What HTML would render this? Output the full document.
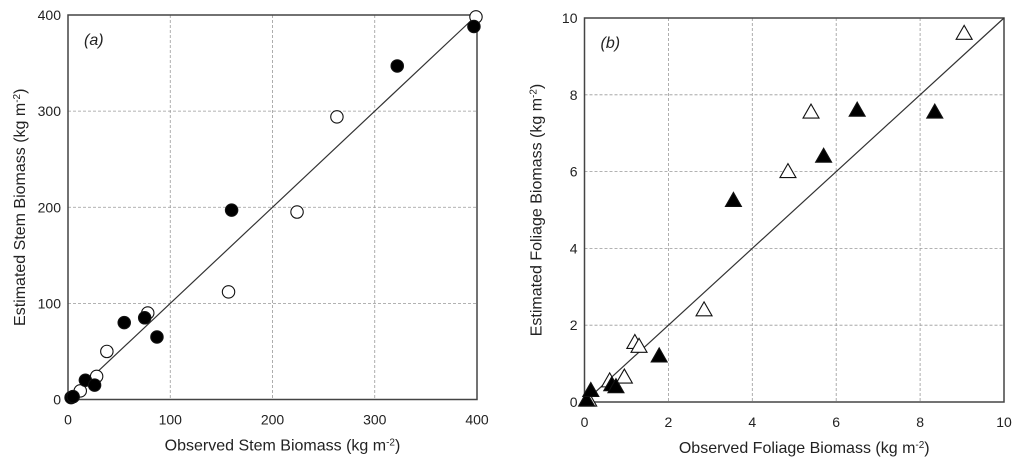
<!DOCTYPE html>
<html><head><meta charset="utf-8"><style>
body{margin:0;background:#fff;width:1024px;height:463px;overflow:hidden}
svg text{font-family:"Liberation Sans",Arial,sans-serif;fill:#222}
</style></head><body>
<svg id="c" width="1024" height="463"></svg>
<script>
const aTicks=[0,100,200,300,400];
const aOpenX=[5,12,28,38,78,157,224,263,399];
const aOpenY=[3,9,24,50,90,112,195,294,398];
const aFillX=[3,5,17,26,55,75,87,160,322,397];
const aFillY=[2,3,20,15,80,85,65,197,347,388];
const bTicks=[0,2,4,6,8,10];
const bOpenX=[0.1,0.6,0.95,1.2,1.3,2.85,4.85,5.4,9.05];
const bOpenY=[0.05,0.55,0.65,1.55,1.45,2.4,6.0,7.55,9.6];
const bFillX=[0.05,0.15,0.65,0.75,1.78,3.55,5.7,6.5,8.35];
const bFillY=[0.05,0.3,0.45,0.4,1.2,5.25,6.4,7.6,7.55];
const NS='http://www.w3.org/2000/svg';
const svg=document.getElementById('c');
function mk(t,a,p){const e=document.createElementNS(NS,t);for(const k in a)e.setAttribute(k,a[k]);(p||svg).appendChild(e);return e;}
function panel(P){
  const g=mk('g',{});
  
  
  const sx=v=>P.l+(v-P.min)/(P.max-P.min)*(P.r-P.l);
  const sy=v=>P.b-(v-P.min)/(P.max-P.min)*(P.b-P.t);
  P.ticks.forEach(t=>{
    if(t>P.min&&t<P.max){
      const gx=mk('line',{x1:sx(t),x2:sx(t),y1:P.t,y2:P.b,stroke:'#999','stroke-dasharray':'3,2','stroke-width':0.8},g);
      
      const gy=mk('line',{x1:P.l,x2:P.r,y1:sy(t),y2:sy(t),stroke:'#999','stroke-dasharray':'3,2','stroke-width':0.8},g);
      
    }
    const tx=mk('text',{x:sx(t),y:P.b+25,'text-anchor':'middle','font-size':14},g);tx.textContent=t;
    
    const ty=mk('text',{x:P.l-7,y:sy(t)+5,'text-anchor':'end','font-size':14},g);ty.textContent=t;
    
  });
  const fr=mk('rect',{x:P.l,y:P.t,width:P.r-P.l,height:P.b-P.t,fill:'none',stroke:'#444','stroke-width':1.5},g);
  
  const ln=mk('line',{x1:sx(P.min),y1:sy(P.min),x2:sx(P.max),y2:sy(P.max),stroke:'#333','stroke-width':1.2},g);
  
  const mark=(x,y,fill,nm)=>{
    let e;
    if(P.shape==='circle') e=mk('circle',{cx:sx(x),cy:sy(y),r:6.2,fill:fill,stroke:'#111','stroke-width':1.1},g);
    else {const cx=sx(x),cy=sy(y);e=mk('polygon',{points:`${cx},${cy-8} ${cx-8},${cy+6} ${cx+8},${cy+6}`,fill:fill,stroke:'#111','stroke-width':1.1},g);}
    
  };
  P.ox.forEach((x,i)=>mark(x,P.oy[i],'#fff','open-point'));
  P.fx.forEach((x,i)=>mark(x,P.fy[i],'#000','filled-point'));
  const lb=mk('text',{x:P.l+16,y:P.t+30,'font-size':16,'font-style':'italic'},g);lb.textContent=P.label;
  
  const xt=mk('text',{x:(P.l+P.r)/2+10,y:P.b+51,'text-anchor':'middle','font-size':16},g);
  xt.innerHTML=P.xt+' (kg m<tspan dy="-5" font-size="10">-2</tspan><tspan dy="5">)</tspan>';
  
  const yt=mk('text',{x:0,y:0,'text-anchor':'middle','font-size':16,transform:`translate(${P.l-43},${(P.t+P.b)/2}) rotate(-90)`},g);
  yt.innerHTML=P.yt+' (kg m<tspan dy="-5" font-size="10">-2</tspan><tspan dy="5">)</tspan>';
  
}
panel({name:'panel-a-stem',l:68,r:477,t:15,b:399.5,min:0,max:400,ticks:aTicks,ox:aOpenX,oy:aOpenY,fx:aFillX,fy:aFillY,shape:'circle',label:'(a)',xt:'Observed Stem Biomass',yt:'Estimated Stem Biomass'});
panel({name:'panel-b-foliage',l:584.5,r:1004,t:18,b:402,min:0,max:10,ticks:bTicks,ox:bOpenX,oy:bOpenY,fx:bFillX,fy:bFillY,shape:'tri',label:'(b)',xt:'Observed Foliage Biomass',yt:'Estimated Foliage Biomass'});
</script>
</body></html>
